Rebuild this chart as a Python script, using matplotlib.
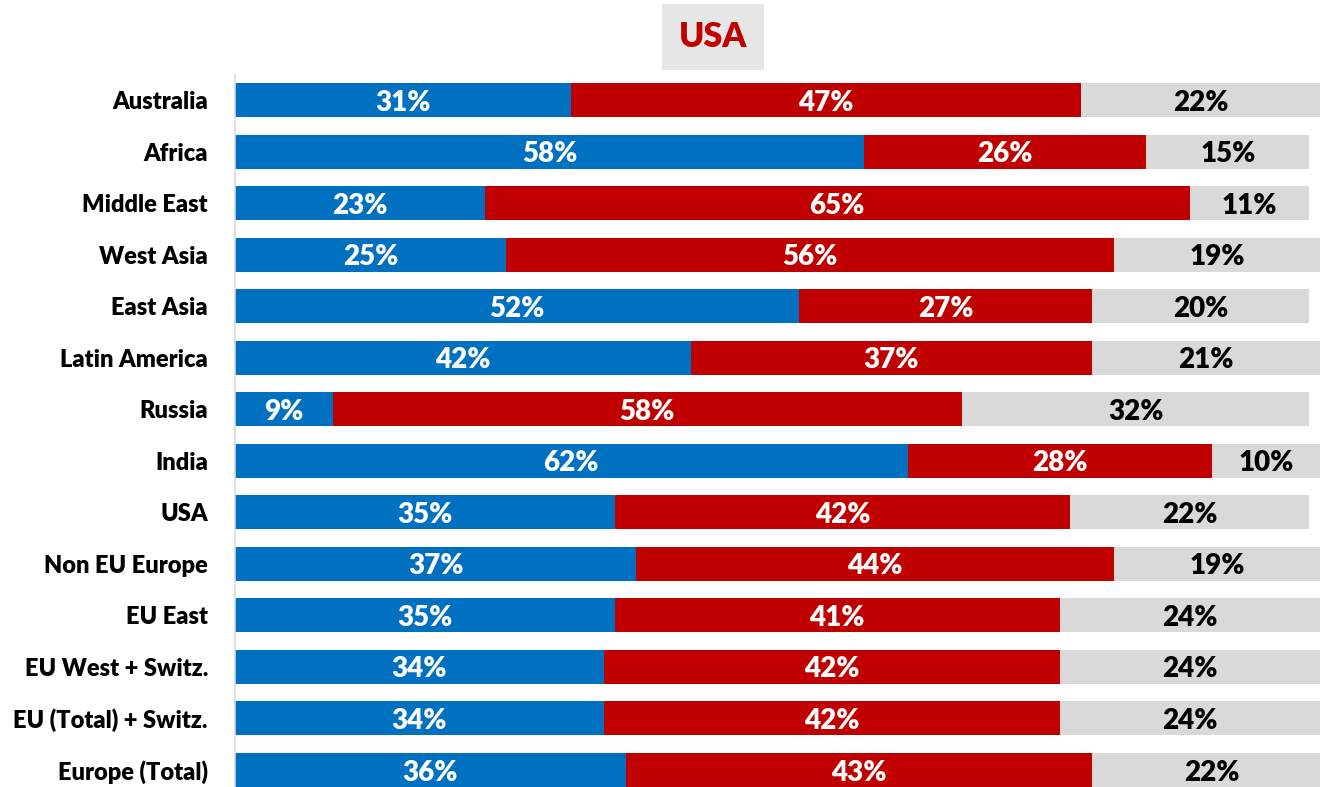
import matplotlib
matplotlib.use("Agg")
import matplotlib.pyplot as plt
import numpy as np

# categories top to bottom
regions = ["Australia", "Africa", "Middle East", "West Asia", "East Asia",
           "Latin America", "Russia", "India", "USA", "Non EU Europe",
           "EU East", "EU West + Switz.", "EU (Total) + Switz.", "Europe (Total)"]

# shares (%)
blue = [31, 58, 23, 25, 52, 42, 9, 62, 35, 37, 35, 34, 34, 36]
red = [47, 26, 65, 56, 27, 37, 58, 28, 42, 44, 41, 42, 42, 43]
grey = [22, 15, 11, 19, 20, 21, 32, 10, 22, 19, 24, 24, 24, 22]

c_blue = "#0070c0"
c_red = "#c00000"
c_grey = "#d9d9d9"

plt.rcParams['font.family'] = ['Lato', 'DejaVu Sans']

fig = plt.figure(figsize=(13.34, 7.87), dpi=100)
ax = fig.add_axes([235 / 1334, 0, 1085 / 1334, 712 / 787])

y = np.arange(len(regions))
h = 0.66
b = np.array(blue)
r = np.array(red)
g = np.array(grey)

ax.barh(y, b, height=h, color=c_blue)
ax.barh(y, r, left=b, height=h, color=c_red)
ax.barh(y, g, left=b + r, height=h, color=c_grey)

# segment labels (nudged down a touch, like the original)
for i in range(len(regions)):
    ty = y[i] + 0.05
    ax.text(b[i] / 2, ty, f"{b[i]}%", ha="center", va="center",
            color="white", fontsize=20, fontweight="heavy")
    ax.text(b[i] + r[i] / 2, ty, f"{r[i]}%", ha="center", va="center",
            color="white", fontsize=20, fontweight="heavy")
    ax.text(b[i] + r[i] + g[i] / 2, ty, f"{g[i]}%", ha="center", va="center",
            color="black", fontsize=20, fontweight="heavy")

ax.set_xlim(0, 100)
ax.set_ylim(13.33, -0.485)
ax.set_yticks(y)
ax.set_yticklabels(regions, fontsize=17, fontweight="heavy")
ax.tick_params(axis="y", length=0, pad=19.5)
ax.set_xticks([])
for s in ["top", "right", "bottom"]:
    ax.spines[s].set_visible(False)
ax.spines["left"].set_color("#d9d9d9")
ax.spines["left"].set_linewidth(1.2)

# title in a grey box
fig.text(713 / 1334, 1 - 37 / 787, "USA", ha="center", va="center",
         color=c_red, fontsize=24.5, fontweight="heavy",
         bbox=dict(boxstyle="square,pad=0.5", facecolor="#e6e6e6", edgecolor="none"))

fig.savefig("out.png", dpi=100)
